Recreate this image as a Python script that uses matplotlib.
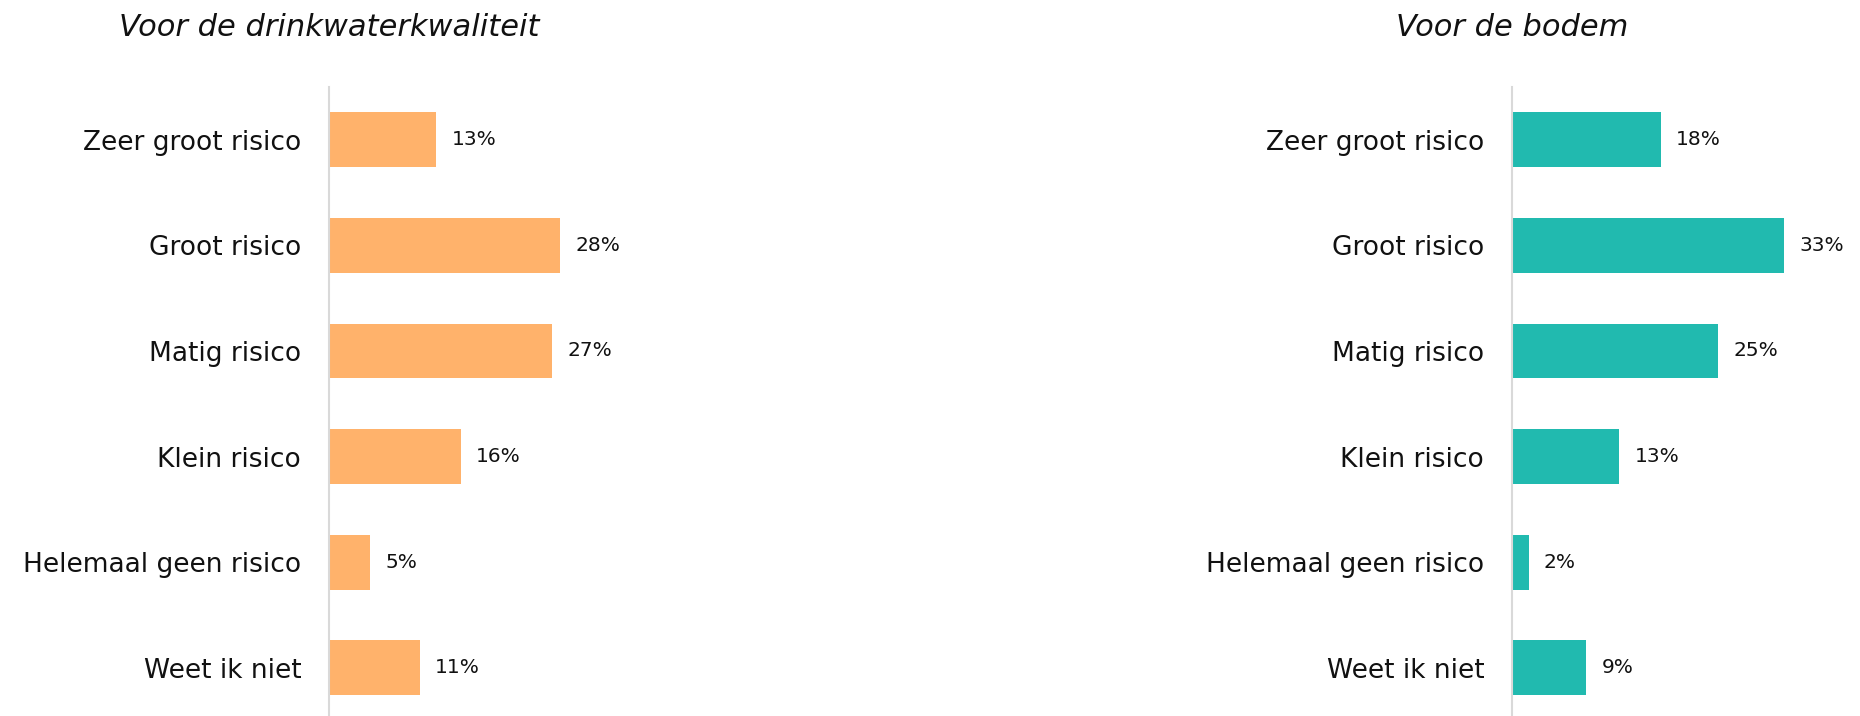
import matplotlib.pyplot as plt

# data
categorieen = ['Zeer groot risico', 'Groot risico', 'Matig risico',
               'Klein risico', 'Helemaal geen risico', 'Weet ik niet']
drinkwater = [13, 28, 27, 16, 5, 11]
bodem = [18, 33, 25, 13, 2, 9]
titels = ['Voor de drinkwaterkwaliteit', 'Voor de bodem']

kleur_oranje = '#FFB26B'
kleur_teal = '#21BAAF'

plt.rcParams['font.family'] = ['DejaVu Sans']

fig = plt.figure(figsize=(18.6, 7.16), dpi=100)

# axes positions in figure fractions (left, bottom, width, height)
h = 6 * 105.6 / 716
top = 1 - 87 / 716
posities = [(329 / 1860, top - h, 330 / 1860, h),
            (1512 / 1860, top - h, 330 / 1860, h)]

for pos, waarden, kleur, titel in zip(posities, [drinkwater, bodem],
                                      [kleur_oranje, kleur_teal], titels):
    ax = fig.add_axes(pos)
    y = range(len(categorieen))
    bars = ax.barh(y, waarden, height=0.52, color=kleur)
    ax.set_ylim(len(categorieen) - 0.5, -0.5)
    ax.set_xlim(0, 40)
    ax.set_yticks(list(y))
    ax.set_yticklabels(categorieen, fontsize=19, color='#111111')
    ax.tick_params(axis='y', length=0, pad=20)
    ax.set_xticks([])
    for s in ['top', 'right', 'bottom']:
        ax.spines[s].set_visible(False)
    ax.spines['left'].set_color('#D9D9D9')
    ax.spines['left'].set_linewidth(1.5)
    for b, v in zip(bars, waarden):
        ax.annotate(f'{v}%', (b.get_width(), b.get_y() + b.get_height() / 2),
                    xytext=(11, 0), textcoords='offset points',
                    va='center', ha='left', fontsize=14.5, color='#111111')
    # title centered above the axis line
    ax.text(0, 1 + 60 / 633.6, titel, transform=ax.transAxes,
            ha='center', va='center', fontsize=22, style='italic',
            color='#111111')

fig.savefig('out.png', dpi=100)
